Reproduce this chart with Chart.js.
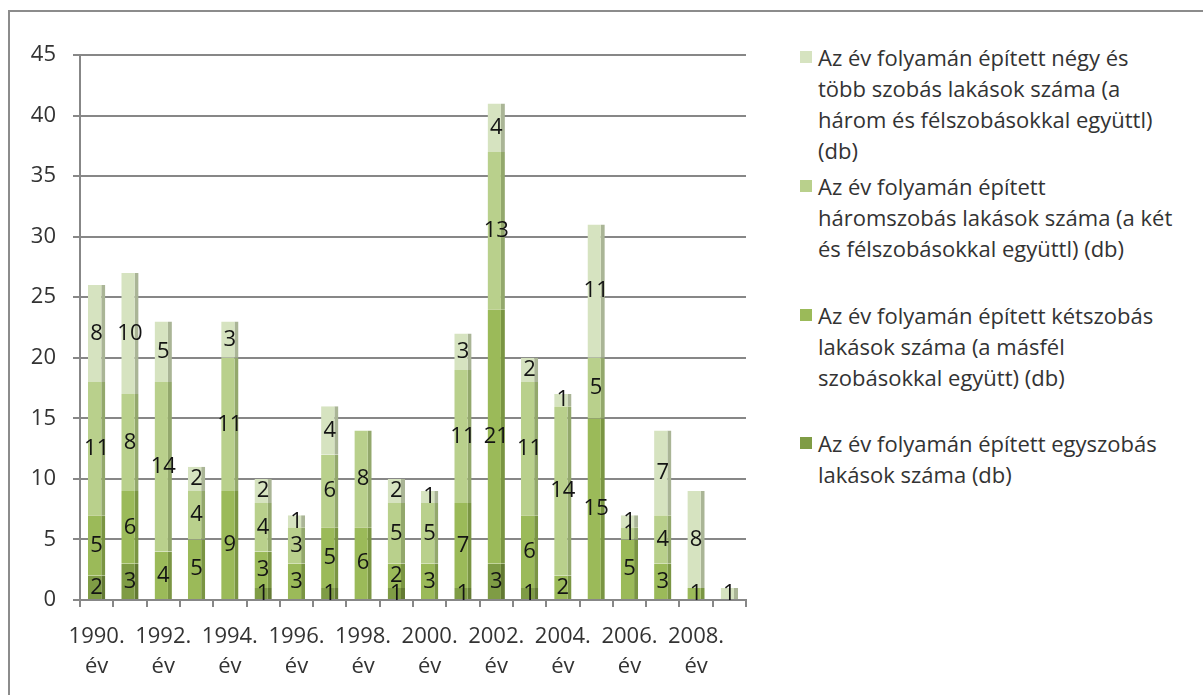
<!DOCTYPE html>
<html>
<head>
<meta charset="utf-8">
<script src="https://cdn.jsdelivr.net/npm/chart.js@4.4.1/dist/chart.umd.min.js"></script>
<style>
  html, body { margin: 0; padding: 0; background: #fff; }
  body { width: 1203px; height: 695px; position: relative; overflow: hidden; font-family: "Open Sans", sans-serif; }
  #frame { position: absolute; left: 8px; top: 10px; width: 1200px; height: 700px; border-left: 2px solid #8c8c8c; border-top: 2px solid #8c8c8c; }
  #wrap { position: absolute; left: 0; top: 0; width: 760px; height: 695px; }
  .leg { position: absolute; left: 800px; color: #333; font-size: 22px; line-height: 31px; }
  .leg i { position: absolute; left: 0; top: 9px; width: 12px; height: 12px; }
  .leg span { display: block; margin-left: 18px; white-space: nowrap; }
</style>
</head>
<body>
<div id="frame"></div>
<div id="wrap"><canvas id="c"></canvas></div>
<div id="legend"></div>
<script>
/* ── Data ─────────────────────────────────────────────── */
const YEARS = [1990,1991,1992,1993,1994,1995,1996,1997,1998,1999,
               2000,2001,2002,2003,2004,2005,2006,2007,2008,2009];

const EGYSZOBAS  = [2,3,0,0,0,1,0,1,0,1, 0,1,3,1,0,0,0,0,0,0];
const KETSZOBAS  = [5,6,4,5,9,3,3,5,6,2, 3,7,21,6,2,15,5,3,1,0];
const HAROMSZOBAS= [11,8,14,4,11,4,3,6,8,5, 5,11,13,11,14,5,1,4,0,0];
const NEGYSZOBAS = [8,10,5,2,3,2,1,4,0,2, 1,3,4,2,1,11,1,7,8,1];

const Y_MAX  = 45;
const Y_STEP = 5;

const SERIES = [
  { name: ["Az év folyamán épített egyszobás", "lakások száma (db)"],
    data: EGYSZOBAS, color: "#7f9c45", side: "#637a33" },
  { name: ["Az év folyamán épített kétszobás", "lakások száma (a másfél", "szobásokkal együtt) (db)"],
    data: KETSZOBAS, color: "#9bba59", side: "#7a9543" },
  { name: ["Az év folyamán épített", "háromszobás lakások száma (a két", "és félszobásokkal együttl) (db)"],
    data: HAROMSZOBAS, color: "#b9d08c", side: "#93a86c" },
  { name: ["Az év folyamán épített négy és", "több szobás lakások száma (a", "három és félszobásokkal együttl)", "(db)"],
    data: NEGYSZOBAS, color: "#d6e3c0", side: "#aab596" },
];

const LEGEND_TOPS = [428, 300, 171, 42];   // per series, bottom→top order above

/* ── Labels ───────────────────────────────────────────── */
const labels = YEARS.map(y => (y % 2 === 0 ? [y + ".", "év"] : ""));

const FONT = "'Open Sans', sans-serif";

/* ── Segment value labels ─────────────────────────────── */
const valueLabels = {
  id: "valueLabels",
  afterDatasetsDraw(chart) {
    const ctx = chart.ctx;
    ctx.save();
    ctx.font = "22px " + FONT;
    ctx.fillStyle = "#141414";
    ctx.textAlign = "center";
    ctx.textBaseline = "middle";
    chart.data.datasets.forEach((ds, i) => {
      const meta = chart.getDatasetMeta(i);
      meta.data.forEach((bar, j) => {
        const v = ds.data[j];
        if (!v) return;
        ctx.fillText(String(v), bar.x, (bar.y + bar.base) / 2);
      });
    });
    ctx.restore();
  },
};

const GRID = "#878787";

new Chart(document.getElementById("c"), {
  type: "bar",
  data: {
    labels,
    datasets: SERIES.map(s => ({
      label: s.name.join(" "),
      data: s.data,
      backgroundColor: s.color,
      borderColor: s.side,
      borderWidth: { top: 0, right: 4, bottom: 0, left: 0 },
      borderSkipped: false,
      barPercentage: 0.52,
      categoryPercentage: 1,
    })),
  },
  options: {
    responsive: true,
    maintainAspectRatio: false,
    animation: false,
    layout: { padding: { top: 55, right: 14, bottom: 0, left: 0 } },
    plugins: { legend: { display: false }, tooltip: { enabled: false } },
    scales: {
      x: {
        stacked: true,
        afterFit: s => { s.height = 95; },
        grid: { drawOnChartArea: false, drawTicks: true, tickLength: 7, color: GRID, lineWidth: 2 },
        border: { display: true, color: GRID, width: 2 },
        ticks: {
          autoSkip: false, maxRotation: 0, padding: 14, color: "#333",
          font: { family: FONT, size: 22, lineHeight: 1.4 },
        },
      },
      y: {
        stacked: true,
        min: 0, max: Y_MAX,
        afterFit: s => { s.width = 80; },
        grid: { color: GRID, lineWidth: 2, tickLength: 7 },
        border: { display: true, color: GRID, width: 2 },
        ticks: {
          stepSize: Y_STEP, padding: 17, color: "#333",
          font: { family: FONT, size: 22 },
        },
      },
    },
  },
  plugins: [valueLabels],
});

/* ── HTML legend (wrapped text, as in original) ───────── */
const legendEl = document.getElementById("legend");
SERIES.forEach((s, i) => {
  const d = document.createElement("div");
  d.className = "leg";
  d.style.top = LEGEND_TOPS[i] + "px";
  d.innerHTML = `<i style="background:${s.color}"></i>` + s.name.map(t => `<span>${t}</span>`).join("");
  legendEl.appendChild(d);
});
</script>
</body>
</html>
